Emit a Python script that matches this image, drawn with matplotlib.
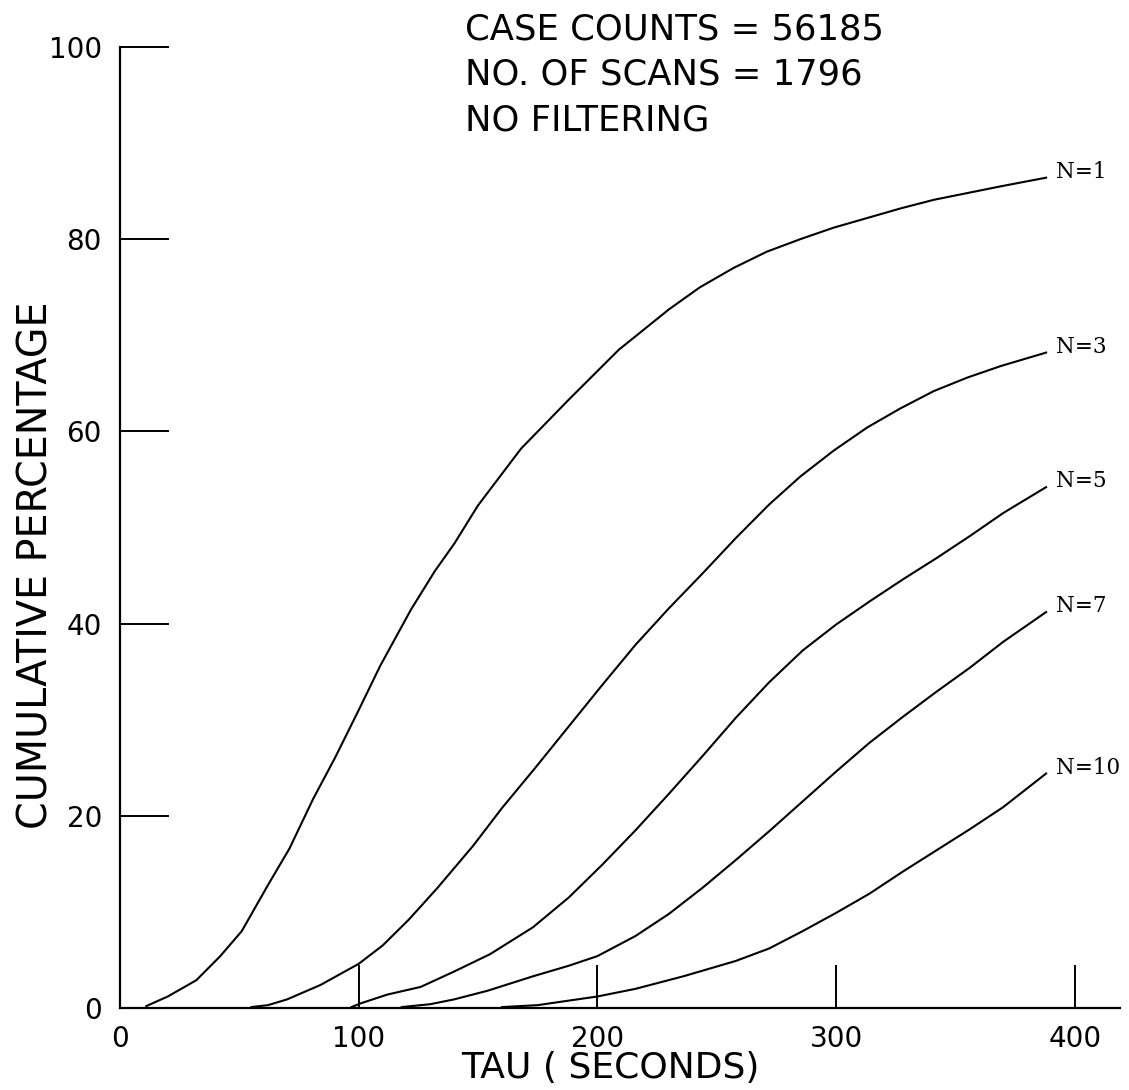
import matplotlib
matplotlib.use("Agg")
import matplotlib.pyplot as plt
from matplotlib import font_manager

# curves: tau (seconds) vs cumulative percentage
tau_n1 = [11, 20, 32, 42, 51, 62, 71, 81, 90, 100, 109, 122, 132, 140, 150, 168, 188, 209, 230, 243, 257, 271, 285, 299, 313, 327, 341, 355, 369, 388]
pct_n1 = [0.2, 1.2, 2.9, 5.4, 8.0, 12.8, 16.6, 21.8, 26.0, 31.0, 35.6, 41.5, 45.5, 48.3, 52.3, 58.2, 63.3, 68.5, 72.7, 75.0, 77.0, 78.7, 80.0, 81.2, 82.2, 83.2, 84.1, 84.8, 85.5, 86.4]

tau_n3 = [55, 62, 70, 84, 100, 110, 121, 133, 148, 160, 174, 188, 202, 216, 230, 244, 258, 272, 285, 299, 313, 327, 341, 355, 369, 388]
pct_n3 = [0.1, 0.3, 0.9, 2.4, 4.6, 6.5, 9.2, 12.5, 16.9, 20.8, 25.0, 29.3, 33.6, 37.8, 41.6, 45.2, 48.9, 52.4, 55.3, 58.0, 60.4, 62.4, 64.2, 65.6, 66.8, 68.2]

tau_n5 = [97, 101, 112, 126, 140, 155, 173, 188, 202, 216, 230, 244, 258, 272, 286, 300, 314, 328, 342, 356, 370, 388]
pct_n5 = [0.1, 0.5, 1.4, 2.2, 3.8, 5.6, 8.4, 11.5, 14.9, 18.5, 22.3, 26.2, 30.2, 33.9, 37.2, 39.9, 42.3, 44.6, 46.8, 49.1, 51.5, 54.2]

tau_n7 = [118, 130, 140, 154, 173, 188, 200, 216, 230, 244, 258, 272, 286, 300, 314, 328, 342, 356, 370, 388]
pct_n7 = [0.1, 0.4, 0.9, 1.8, 3.3, 4.4, 5.4, 7.5, 9.8, 12.5, 15.4, 18.4, 21.5, 24.6, 27.6, 30.3, 32.9, 35.4, 38.1, 41.2]

tau_n10 = [160, 175, 186, 200, 216, 236, 258, 272, 286, 300, 314, 328, 342, 356, 370, 388]
pct_n10 = [0.1, 0.3, 0.7, 1.2, 2.0, 3.3, 4.9, 6.2, 8.0, 9.9, 11.9, 14.2, 16.4, 18.6, 20.9, 24.4]

curve_names = ["N=1", "N=3", "N=5", "N=7", "N=10"]
x_ticks = [0, 100, 200, 300, 400]
y_ticks = [0, 20, 40, 60, 80, 100]
header_lines = ["CASE COUNTS = 56185", "NO. OF SCANS = 1796", "NO FILTERING"]


def pick_font():
    # a narrow face looks closer to the plotter lettering, if there is one
    names = {f.name for f in font_manager.fontManager.ttflist}
    for name in ["Liberation Sans Narrow", "DejaVu Sans"]:
        if name in names:
            return name
    return "DejaVu Sans"


def plot_data():
    font = pick_font()
    plt.rcParams['font.family'] = font

    fig = plt.figure(figsize=(11.29, 10.9), dpi=100)
    ax = fig.add_axes([0.1063, 0.0752, 0.8858, 0.8817])

    curves = [(tau_n1, pct_n1), (tau_n3, pct_n3), (tau_n5, pct_n5),
              (tau_n7, pct_n7), (tau_n10, pct_n10)]
    for (tau, pct), name in zip(curves, curve_names):
        ax.plot(tau, pct, color='black', linewidth=1.5)
        # label at the end of each curve
        ax.text(tau[-1] + 4, pct[-1] + 0.6, name, family='DejaVu Serif',
                fontsize=15.5, ha='left', va='center')

    ax.set_xlim(0, 419)
    ax.set_ylim(0, 100)

    ax.spines['top'].set_visible(False)
    ax.spines['right'].set_visible(False)
    ax.spines['left'].set_linewidth(1.6)
    ax.spines['bottom'].set_linewidth(1.6)

    ax.set_xticks(x_ticks)
    ax.set_yticks(y_ticks)
    ax.tick_params(axis='x', direction='in', length=31, width=1.4, pad=12, labelsize=20)
    ax.tick_params(axis='y', direction='in', length=35, width=1.4, pad=13, labelsize=20)

    ax.set_xlabel("TAU ( SECONDS)", fontsize=26)
    ax.xaxis.set_label_coords(0.49, -0.045)
    ax.set_ylabel("CUMULATIVE PERCENTAGE", fontsize=28.5)
    ax.yaxis.set_label_coords(-0.064, 0.461)

    # run info in the top middle
    for i, line in enumerate(header_lines):
        fig.text(0.412, 0.9725 - i * 0.0413, line, fontsize=25.5, ha='left', va='center')

    fig.savefig("out.png", dpi=100, facecolor='white')


if __name__ == "__main__":
    plot_data()
